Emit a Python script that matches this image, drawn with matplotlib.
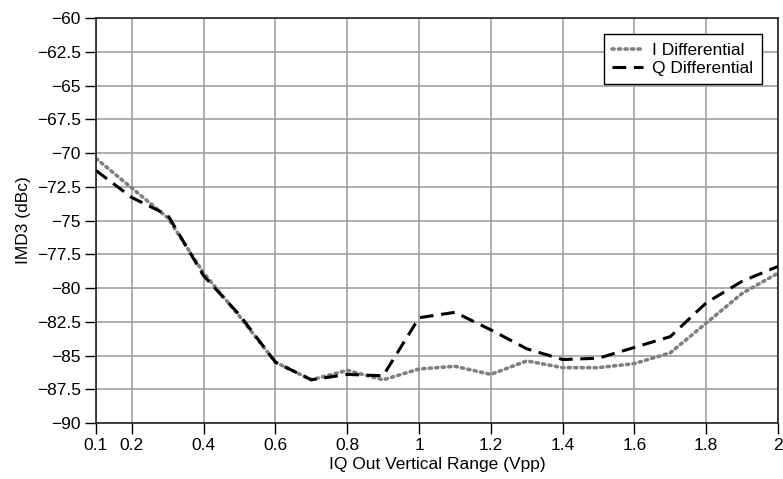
import matplotlib
matplotlib.use("Agg")
import matplotlib.pyplot as plt
from matplotlib.ticker import FormatStrFormatter

plt.rcParams['font.family'] = ['Liberation Sans', 'DejaVu Sans']

# IMD3 vs output range, both channels
vpp = [0.1, 0.2, 0.3, 0.4, 0.5, 0.6, 0.7, 0.8, 0.9, 1.0,
       1.1, 1.2, 1.3, 1.4, 1.5, 1.6, 1.7, 1.8, 1.9, 2.0]
i_diff = [-70.4, -72.6, -74.8, -78.9, -82.1, -85.5, -86.8, -86.1, -86.8, -86.0,
          -85.8, -86.4, -85.4, -85.9, -85.9, -85.6, -84.8, -82.6, -80.4, -78.9]
q_diff = [-71.3, -73.3, -74.6, -79.1, -82.0, -85.5, -86.8, -86.4, -86.5, -82.2,
          -81.8, -83.1, -84.5, -85.3, -85.2, -84.4, -83.6, -81.1, -79.5, -78.4]

x_ticks = [0.1, 0.2, 0.4, 0.6, 0.8, 1.0, 1.2, 1.4, 1.6, 1.8, 2.0]
y_ticks = [-60 - 2.5 * k for k in range(13)]

fig = plt.figure(figsize=(7.83, 4.79), dpi=100)
ax = fig.add_axes([0.1226, 0.1169, 0.871, 0.8455])

ax.plot(vpp, i_diff, color='#808080', lw=2.6, linestyle=(0, (0.6, 1.2)),
        dash_capstyle='round', label='I Differential')
ax.plot(vpp, q_diff, color='black', lw=2.2, linestyle=(0, (4.5, 2.5)),
        label='Q Differential')

ax.set_xlim(0.1, 2.0)
ax.set_ylim(-90, -60)
ax.set_xticks(x_ticks)
ax.set_yticks(y_ticks)
ax.xaxis.set_major_formatter(FormatStrFormatter('%g'))
ax.yaxis.set_major_formatter(FormatStrFormatter('%g'))
ax.set_yticklabels(['%g' % v for v in y_ticks])
ax.set_yticklabels([('%g' % v).replace('-', '\u2212') for v in y_ticks])

ax.grid(True, color='#a0a0a0', lw=1.2)
ax.set_axisbelow(True)
ax.tick_params(direction='out', length=8, width=1, labelsize=12.5, pad=3)
for s in ax.spines.values():
    s.set_linewidth(1.2)
    s.set_color('#222222')

ax.set_xlabel('IQ Out Vertical Range (Vpp)', fontsize=12.5, labelpad=3)
ax.set_ylabel('IMD3 (dBc)', fontsize=12.5, labelpad=4)

leg = ax.legend(loc='upper right', bbox_to_anchor=(0.9765, 0.9605),
                borderaxespad=0, fancybox=False, framealpha=1,
                edgecolor='black', fontsize=12.5, handlelength=1.8,
                labelspacing=0.15, handletextpad=0.5, borderpad=0.5)
leg.get_frame().set_linewidth(1.0)

fig.savefig('out.png', dpi=100)
